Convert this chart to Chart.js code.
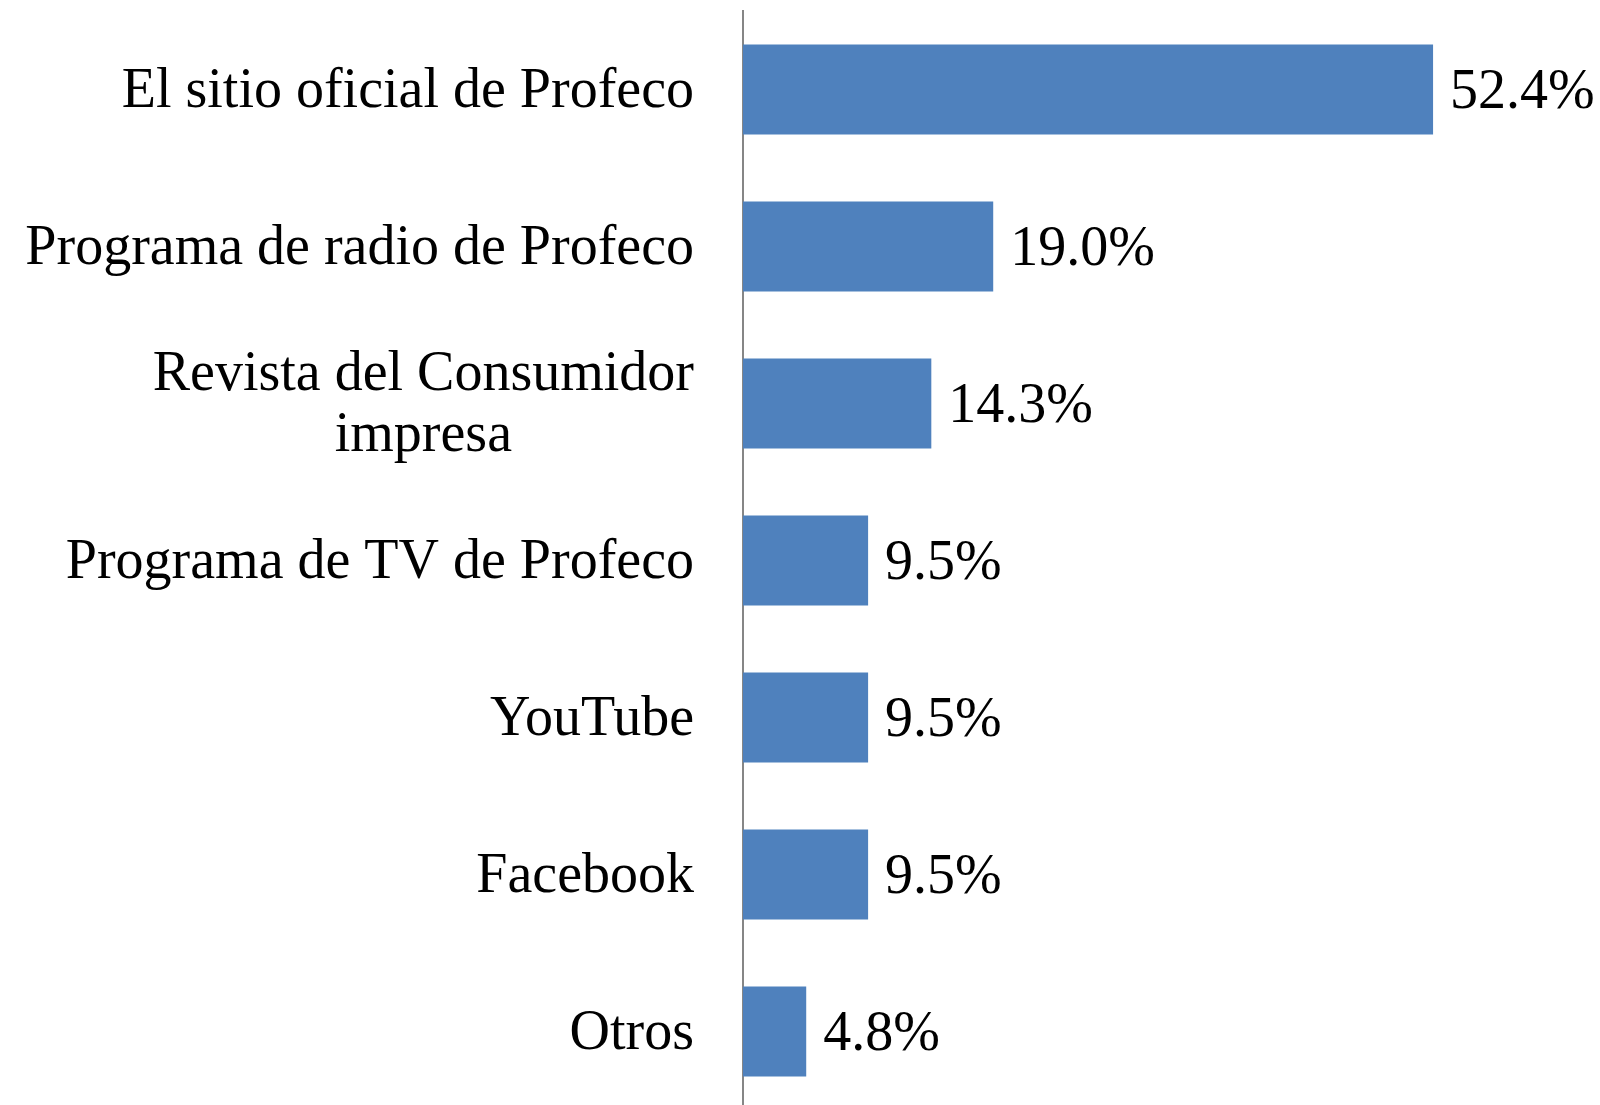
<!DOCTYPE html>
<html>
<head>
<meta charset="utf-8">
<script src="https://cdn.jsdelivr.net/npm/chart.js@4.4.0/dist/chart.umd.min.js"></script>
<style>
  html, body { margin: 0; padding: 0; background: #fff; overflow: hidden; }
  #wrap { position: relative; width: 1600px; height: 1110px; }
</style>
</head>
<body>
<div id="wrap"><canvas id="chart"></canvas></div>
<script>
// datos del gráfico
const categories = [
    'El sitio oficial de Profeco',
    'Programa de radio de Profeco',
    ['Revista del Consumidor', 'impresa'],
    'Programa de TV de Profeco',
    'YouTube',
    'Facebook',
    'Otros'
];
const values = [52.4, 19.0, 14.3, 9.5, 9.5, 9.5, 4.8];
const valueLabels = ['52.4%', '19.0%', '14.3%', '9.5%', '9.5%', '9.5%', '4.8%'];

const FONT = '56px "Liberation Serif", serif';

// etiquetas de categoría y de valor dibujadas a mano
const labelPlugin = {
    id: 'labelPlugin',
    afterDraw(chart) {
        const c = chart.ctx;
        const yScale = chart.scales.y;
        const meta = chart.getDatasetMeta(0);
        c.save();
        c.font = FONT;
        c.fillStyle = '#000';
        c.textBaseline = 'middle';
        const rightX = yScale.right - 49;
        categories.forEach((cat, i) => {
            const y = yScale.getPixelForValue(i) + 3;
            if (Array.isArray(cat)) {
                const w = Math.max(...cat.map(t => c.measureText(t).width));
                const cx = rightX - w / 2;
                const lh = 61;
                c.textAlign = 'center';
                cat.forEach((t, j) => {
                    c.fillText(t, cx, y - 1 + (j - (cat.length - 1) / 2) * lh);
                });
            } else {
                c.textAlign = 'right';
                c.fillText(cat, rightX, y);
            }
        });
        c.textAlign = 'left';
        meta.data.forEach((bar, i) => {
            c.fillText(valueLabels[i], bar.x + 17, bar.y + 4);
        });
        c.restore();
    }
};

const ctx = document.getElementById('chart').getContext('2d');
const chart = new Chart(ctx, {
    type: 'bar',
    data: {
        labels: categories,
        datasets: [{
            data: values,
            backgroundColor: '#4F81BD',
            borderWidth: 0,
            categoryPercentage: 1,
            barPercentage: 0.573
        }]
    },
    options: {
        indexAxis: 'y',
        responsive: true,
        maintainAspectRatio: false,
        animation: false,
        layout: { padding: { top: 11, right: 1, bottom: 0, left: 0 } },
        plugins: { legend: { display: false }, tooltip: { enabled: false } },
        scales: {
            x: {
                display: false,
                min: 0,
                max: 65
            },
            y: {
                grid: { display: false, drawTicks: false },
                border: { display: true, color: '#868686', width: 2 },
                ticks: { display: false },
                afterFit: s => { s.width = 743; }
            }
        }
    },
    plugins: [labelPlugin]
});
</script>
</body>
</html>
